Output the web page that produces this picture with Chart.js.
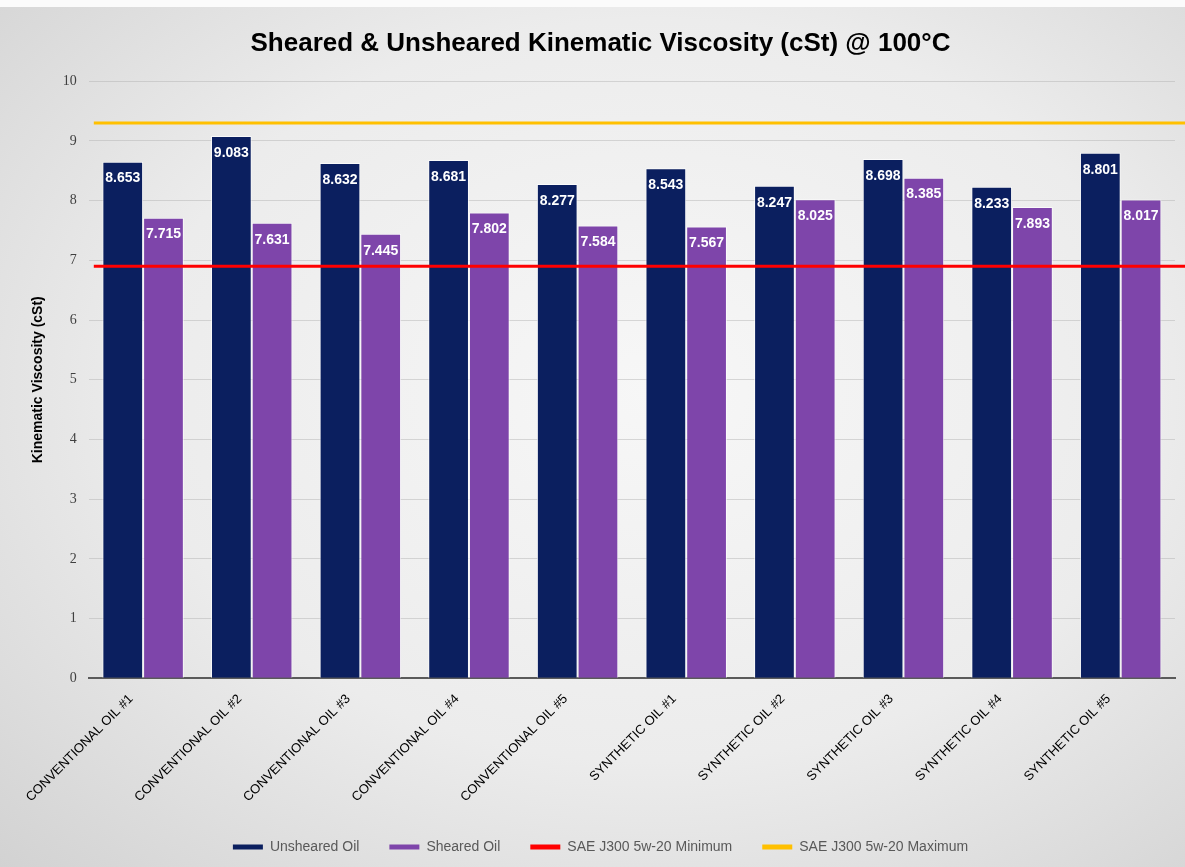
<!DOCTYPE html>
<html>
<head>
<meta charset="utf-8">
<script src="https://cdn.jsdelivr.net/npm/chart.js@4.4.0/dist/chart.umd.min.js"></script>
<style>
  html, body { margin: 0; padding: 0; }
  body {
    width: 1185px; height: 867px; overflow: hidden;
    background: radial-gradient(ellipse at 55% 45%, #f7f7f7 0%, #ececec 55%, #d2d2d2 100%);
  }
  #wrap { position: relative; width: 1185px; height: 867px; }
  #topband { position: absolute; left: 0; top: 0; width: 1185px; height: 7px; background: #fbfbfb; }
</style>
</head>
<body>
<div id="wrap"><div id="topband"></div><canvas id="myChart"></canvas></div>
<script>
// data
const oils = ['CONVENTIONAL OIL #1', 'CONVENTIONAL OIL #2', 'CONVENTIONAL OIL #3', 'CONVENTIONAL OIL #4', 'CONVENTIONAL OIL #5',
              'SYNTHETIC OIL #1', 'SYNTHETIC OIL #2', 'SYNTHETIC OIL #3', 'SYNTHETIC OIL #4', 'SYNTHETIC OIL #5'];
const unsheared = [8.653, 9.083, 8.632, 8.681, 8.277, 8.543, 8.247, 8.698, 8.233, 8.801];
const sheared   = [7.715, 7.631, 7.445, 7.802, 7.584, 7.567, 8.025, 8.385, 7.893, 8.017];
const limitNames  = ['SAE J300 5w-20 Minimum', 'SAE J300 5w-20 Maximum'];
const limitValues = [6.9, 9.3];
const limitColors = ['#ff0000', '#ffc000'];
const yTicks = [0, 1, 2, 3, 4, 5, 6, 7, 8, 9, 10];

// SAE limit lines across the plot, placed with the y scale
const limitLines = {
  id: 'limitLines',
  afterDatasetsDraw(chart) {
    const ctx = chart.ctx;
    const area = chart.chartArea;
    const y = chart.scales.y;
    ctx.save();
    limitValues.forEach((v, i) => {
      const py = y.getPixelForValue(v);
      ctx.strokeStyle = limitColors[i];
      ctx.lineWidth = 3;
      ctx.beginPath();
      ctx.moveTo(area.left + 5, py);
      ctx.lineTo(area.right + 10, py);
      ctx.stroke();
    });
    ctx.restore();
  }
};

// white value labels inside the top of each bar
const barLabels = {
  id: 'barLabels',
  afterDatasetsDraw(chart) {
    const ctx = chart.ctx;
    ctx.save();
    ctx.font = 'bold 14px "Liberation Sans", Arial, sans-serif';
    ctx.fillStyle = '#ffffff';
    ctx.textAlign = 'center';
    ctx.textBaseline = 'middle';
    chart.data.datasets.forEach((ds, i) => {
      chart.getDatasetMeta(i).data.forEach((bar, j) => {
        ctx.fillText(ds.data[j].toFixed(3), bar.x, bar.y + 17);
      });
    });
    ctx.restore();
  }
};

const ctx = document.getElementById('myChart');
const myChart = new Chart(ctx, {
  type: 'bar',
  data: {
    labels: oils,
    datasets: [
      { label: 'Unsheared Oil', data: unsheared, backgroundColor: '#0b1f5f',
        borderColor: 'rgba(255,255,255,0.7)', borderWidth: 1 },
      { label: 'Sheared Oil', data: sheared, backgroundColor: '#7e45aa',
        borderColor: 'rgba(255,255,255,0.7)', borderWidth: 1 }
    ]
  },
  options: {
    responsive: true,
    maintainAspectRatio: false,
    animation: false,
    layout: { padding: { left: 26, right: 10, top: 10, bottom: 3 } },
    datasets: { bar: { categoryPercentage: 0.75, barPercentage: 1.0 } },
    plugins: {
      title: {
        display: true,
        text: 'Sheared & Unsheared Kinematic Viscosity (cSt) @ 100°C',
        font: { family: '"Liberation Sans", Arial, sans-serif', size: 26, weight: 'bold' },
        color: '#000000',
        padding: { top: 18, bottom: 22 }
      },
      legend: {
        position: 'bottom',
        labels: {
          boxWidth: 30, boxHeight: 5, padding: 30,
          color: '#595959',
          font: { family: '"Liberation Sans", Arial, sans-serif', size: 14 },
          generateLabels(chart) {
            const items = Chart.defaults.plugins.legend.labels.generateLabels(chart);
            limitNames.forEach((name, i) => {
              items.push({ text: name, fillStyle: limitColors[i], strokeStyle: limitColors[i],
                           lineWidth: 0, hidden: false, datasetIndex: -1 });
            });
            items.forEach(it => { it.lineWidth = 0; it.fontColor = '#595959'; });
            return items;
          }
        },
        onClick: () => {}
      },
      tooltip: { enabled: false }
    },
    scales: {
      x: {
        grid: { display: false },
        border: { display: true, color: '#5a5a5a', width: 2 },
        ticks: {
          color: '#000000', minRotation: 45, maxRotation: 45, padding: 5, labelOffset: -12,
          font: { family: '"Liberation Sans", Arial, sans-serif', size: 13 }
        }
      },
      y: {
        min: 0, max: 10,
        afterBuildTicks: axis => { axis.ticks = yTicks.map(v => ({ value: v })); },
        grid: { color: 'rgba(175,175,175,0.45)', drawTicks: false },
        border: { display: false },
        ticks: {
          color: '#404040', padding: 12,
          font: { family: '"Liberation Serif", serif', size: 14 }
        },
        title: {
          display: true, text: 'Kinematic Viscosity (cSt)', color: '#000000',
          padding: { top: 4, bottom: 4 },
          font: { family: '"Liberation Sans", Arial, sans-serif', size: 14, weight: 'bold' }
        }
      }
    }
  },
  plugins: [barLabels, limitLines]
});
</script>
</body>
</html>
